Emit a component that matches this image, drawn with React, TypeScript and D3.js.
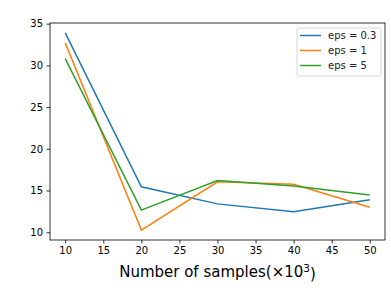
import { useEffect, useRef } from "react";
import * as d3 from "d3";

const samples = [10, 20, 30, 40, 50];
const eps03 = [33.9, 15.45, 13.4, 12.45, 13.9];
const eps1 = [32.7, 10.25, 16.05, 15.75, 13.0];
const eps5 = [30.8, 12.65, 16.2, 15.55, 14.45];
const seriesNames = ["eps = 0.3", "eps = 1", "eps = 5"];
const seriesColors = ["#1f77b4", "#ff7f0e", "#2ca02c"];
const xTicks = [10, 15, 20, 25, 30, 35, 40, 45, 50];
const yTicks = [10, 15, 20, 25, 30, 35];

export default function App() {
  const ref = useRef<SVGSVGElement>(null);

  useEffect(() => {
    drawChart();
  }, []);

  const drawChart = () => {
    const width = 391;
    const height = 290;
    const margin = { top: 23, right: 6, bottom: 50, left: 50 };
    const innerW = width - margin.left - margin.right;
    const innerH = height - margin.top - margin.bottom;
    const font = "DejaVu Sans, sans-serif";

    const root = d3.select(ref.current);
    root.selectAll("*").remove();

    const svg = root
      .append("g")
      .attr("transform", "translate(" + margin.left + "," + margin.top + ")");

    const xScale = d3.scaleLinear().domain([8, 52]).range([0, innerW]);
    const yScale = d3.scaleLinear().domain([9.07, 35.08]).range([innerH, 0]);

    // axes
    const xAxis = d3
      .axisBottom(xScale)
      .tickValues(xTicks)
      .tickSize(3.5)
      .tickPadding(3.5)
      .tickFormat((d) => String(d));
    const yAxis = d3
      .axisLeft(yScale)
      .tickValues(yTicks)
      .tickSize(3.5)
      .tickPadding(3.5)
      .tickFormat((d) => String(d));

    const gx = svg
      .append("g")
      .attr("transform", "translate(0," + innerH + ")")
      .call(xAxis);
    const gy = svg.append("g").call(yAxis);

    [gx, gy].forEach((g) => {
      g.select(".domain").remove();
      g.selectAll("line").attr("stroke", "#000").attr("stroke-width", 0.8);
      g.selectAll("text")
        .attr("fill", "#000")
        .style("font-family", font)
        .style("font-size", "10px");
    });

    // lines
    const allSeries = [eps03, eps1, eps5];
    const line = d3
      .line<number>()
      .x((_, i) => xScale(samples[i]))
      .y((d) => yScale(d));

    allSeries.forEach((s, i) => {
      svg
        .append("path")
        .datum(s)
        .attr("fill", "none")
        .attr("stroke", seriesColors[i])
        .attr("stroke-width", 1.5)
        .attr("d", line);
    });

    // frame
    svg
      .append("rect")
      .attr("x", 0)
      .attr("y", 0)
      .attr("width", innerW)
      .attr("height", innerH)
      .attr("fill", "none")
      .attr("stroke", "#000")
      .attr("stroke-width", 0.8);

    // legend
    const legend = svg
      .append("g")
      .attr("transform", "translate(" + (innerW - 88) + "," + 5 + ")");
    legend
      .append("rect")
      .attr("width", 84)
      .attr("height", 48)
      .attr("rx", 2)
      .attr("fill", "#fff")
      .attr("fill-opacity", 0.8)
      .attr("stroke", "#ccc")
      .attr("stroke-width", 0.8);
    seriesNames.forEach((name, i) => {
      const y = 7.5 + i * 15;
      legend
        .append("line")
        .attr("x1", 3)
        .attr("x2", 24)
        .attr("y1", y)
        .attr("y2", y)
        .attr("stroke", seriesColors[i])
        .attr("stroke-width", 1.5);
      legend
        .append("text")
        .attr("x", 31)
        .attr("y", y)
        .attr("dy", "0.35em")
        .style("font-family", font)
        .style("font-size", "10px")
        .attr("fill", "#222")
        .text(name);
    });

    // x-axis label
    const label = svg
      .append("text")
      .attr("x", innerW / 2)
      .attr("y", innerH + 37)
      .attr("text-anchor", "middle")
      .style("font-family", font)
      .style("font-size", "15px")
      .attr("fill", "#000");
    label.append("tspan").text("Number of samples(×10");
    label
      .append("tspan")
      .attr("dy", "-0.45em")
      .style("font-size", "10.5px")
      .text("3");
    label.append("tspan").attr("dy", "0.45em").text(")");
  };

  return (
    <svg
      ref={ref}
      width={391}
      height={290}
      style={{ position: "absolute", left: 0, top: 0, background: "#fff" }}
    />
  );
}
